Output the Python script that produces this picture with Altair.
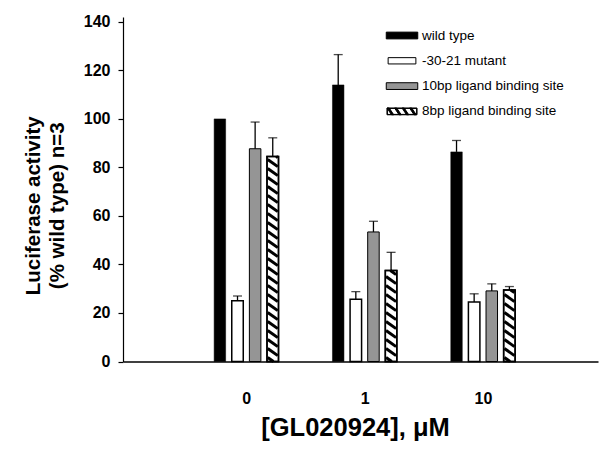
import altair as alt
import pandas as pd

# ---- data ----
groups = ["0", "1", "10"]
series = ["wild type", "-30-21 mutant", "10bp ligand binding site",
          "\u2002\u20028bp ligand binding site"]
wild_type = [100.0, 114.0, 86.4]
wild_type_err = [0.0, 12.5, 4.7]
mutant = [25.0, 25.7, 24.5]
mutant_err = [2.0, 3.1, 3.4]
site10 = [87.7, 53.4, 29.1]
site10_err = [11.0, 4.4, 2.9]
site8 = [84.5, 37.5, 29.5]
site8_err = [7.7, 7.5, 1.4]

# ---- layout ----
W, H = 475, 344.5
XMIN, XMAX = -1.0, 2.93
YMIN, YMAX = 0, 142
PXX = W / (XMAX - XMIN)
PXY = H / (YMAX - YMIN)
BAR_W = 11.5
STEP = 18.0
FONT = "Liberation Sans"

values = [wild_type, mutant, site10, site8]
errors = [wild_type_err, mutant_err, site10_err, site8_err]
rows = []
for si, name in enumerate(series):
    for gi, g in enumerate(groups):
        v = values[si][gi]
        e = errors[si][gi]
        rows.append(dict(series=name, group=g, xc=gi + (si - 1.5) * STEP / PXX,
                         v=v, e=e, top=v + e))
df = pd.DataFrame(rows)

# diagonal hatching for the 8bp bars, derived from the bar values
period, k, inset = 9.0, 0.7, 0.6
stripes = []
for r in df[df.series == series[3]].itertuples():
    Hp = r.v * PXY
    wl, wr = inset, BAR_W - inset
    c = period / 2
    while c < Hp + k * BAR_W:
        x0 = max(wl, (c - Hp) / k)
        x1 = min(wr, c / k)
        if x1 > x0:
            u0, u1 = c - k * x0, c - k * x1
            stripes.append(dict(xc=r.xc + (x0 - BAR_W / 2) / PXX,
                                xc2=r.xc + (x1 - BAR_W / 2) / PXX,
                                v=u0 / PXY, v2=u1 / PXY))
        c += period
sdf = pd.DataFrame(stripes)

xs = alt.Scale(domain=[XMIN, XMAX], nice=False, zero=False)
ys = alt.Scale(domain=[YMIN, YMAX], nice=False)
label_expr = "[" + ",".join("'%s'" % g for g in groups) + "][datum.value]"
xaxis = alt.Axis(values=[0, 1, 2], labelExpr=label_expr, ticks=False, tickSize=0,
                 domainColor="black", domainWidth=1.6, labelFont=FONT, labelFontSize=16,
                 labelFontWeight="bold", labelColor="black", labelPadding=29,
                 title="[GL020924], \u03bcM", titleFont=FONT, titleFontSize=25.5,
                 titleFontWeight="bold", titleColor="black", titlePadding=9,
                 titleX=232, grid=False)
yaxis = alt.Axis(values=list(range(0, 141, 20)), tickSize=5, tickColor="black", tickWidth=1.2,
                 domainColor="black", domainWidth=1.2, labelFont=FONT, labelFontSize=16,
                 labelFontWeight="bold", labelColor="black", labelPadding=8, grid=False,
                 title=["Luciferase activity", "(% wild type) n=3"], titleFont=FONT,
                 titleFontSize=20.5, titleFontWeight="bold", titleColor="black",
                 titlePadding=16, titleLineHeight=24, titleY=H / 2 + 16)
X = alt.X("xc:Q", scale=xs, axis=xaxis)
Y = alt.Y("v:Q", scale=ys, axis=yaxis)

base = alt.Chart(df)

def bars(name, **kw):
    return base.transform_filter(alt.datum.series == name).mark_bar(
        size=BAR_W, orient="vertical", **kw).encode(x=X, y=Y)

wild_bars = bars(series[0], fill="black", stroke="black", strokeWidth=0.5)
mut_bars = bars(series[1], fill="white", stroke="black", strokeWidth=1.5)
s10_bars = bars(series[2], fill="#959595", stroke="black", strokeWidth=1)
s8_bars = bars(series[3], fill="white", stroke="black", strokeWidth=1.5)
s8_outline = bars(series[3], fill="white", fillOpacity=0, stroke="black", strokeWidth=1.5)

hatch = alt.Chart(sdf).mark_rule(color="black", strokeWidth=3).encode(
    x=X, x2="xc2:Q", y=Y, y2="v2:Q")

err_rule = base.transform_filter(alt.datum.e > 0).mark_rule(color="black", strokeWidth=1.3).encode(
    x=X, y=Y, y2="top:Q")
err_cap = base.transform_filter(alt.datum.e > 0).mark_tick(
    orient="horizontal", size=9, thickness=1.3, color="black").encode(
    x=X, y=alt.Y("top:Q", scale=ys, axis=yaxis))

# legend swatches (custom symbol paths)
rect = "M-2.1,-0.45H2.1V0.45H-2.1Z"
rect_m = "M-1.85,-0.42H1.85V0.42H-1.85Z"
hatched = ("M-2,-0.45H2V0.45H-2Z M-1.95,-0.4V0.4H1.95V-0.4Z "
           + " ".join("M%g,-0.45H%g L%g,0.45H%g Z" % (a, a + 0.3, a + 0.9, a + 0.6)
                      for a in [-2.0, -1.0, 0.0, 1.0]))
leg = alt.Legend(title=None, orient="none", legendX=271, legendY=10.5, padding=0,
                 rowPadding=10.3, symbolSize=225, symbolStrokeColor="black",
                 symbolStrokeWidth=1, symbolOpacity=1, labelOffset=12, labelFont=FONT,
                 labelFontSize=13.5, labelColor="black", labelLimit=300)
legend_layer = base.transform_filter(alt.datum.v < 0).mark_point(
    filled=True, stroke="black", strokeWidth=1).encode(
    x=X, y=Y,
    color=alt.Color("series:N", scale=alt.Scale(domain=series,
                    range=["black", "white", "#959595", "black"]), legend=leg),
    shape=alt.Shape("series:N", scale=alt.Scale(domain=series,
                    range=[rect, rect_m, rect, hatched]), legend=leg),
    stroke=alt.Stroke("series:N", scale=alt.Scale(domain=series,
                      range=["black", "black", "black", "black"]), legend=leg))

chart = alt.layer(
    wild_bars, mut_bars, s10_bars, s8_bars, hatch, s8_outline,
    err_rule, err_cap, legend_layer
).properties(
    width=W, height=H,
    autosize=alt.AutoSizeParams(type="none"),
    padding={"left": 115, "top": 9, "right": 1, "bottom": 95},
    background="white",
).configure_view(stroke=None)

chart.save("out.html", embed_options={"renderer": "svg", "actions": False})
